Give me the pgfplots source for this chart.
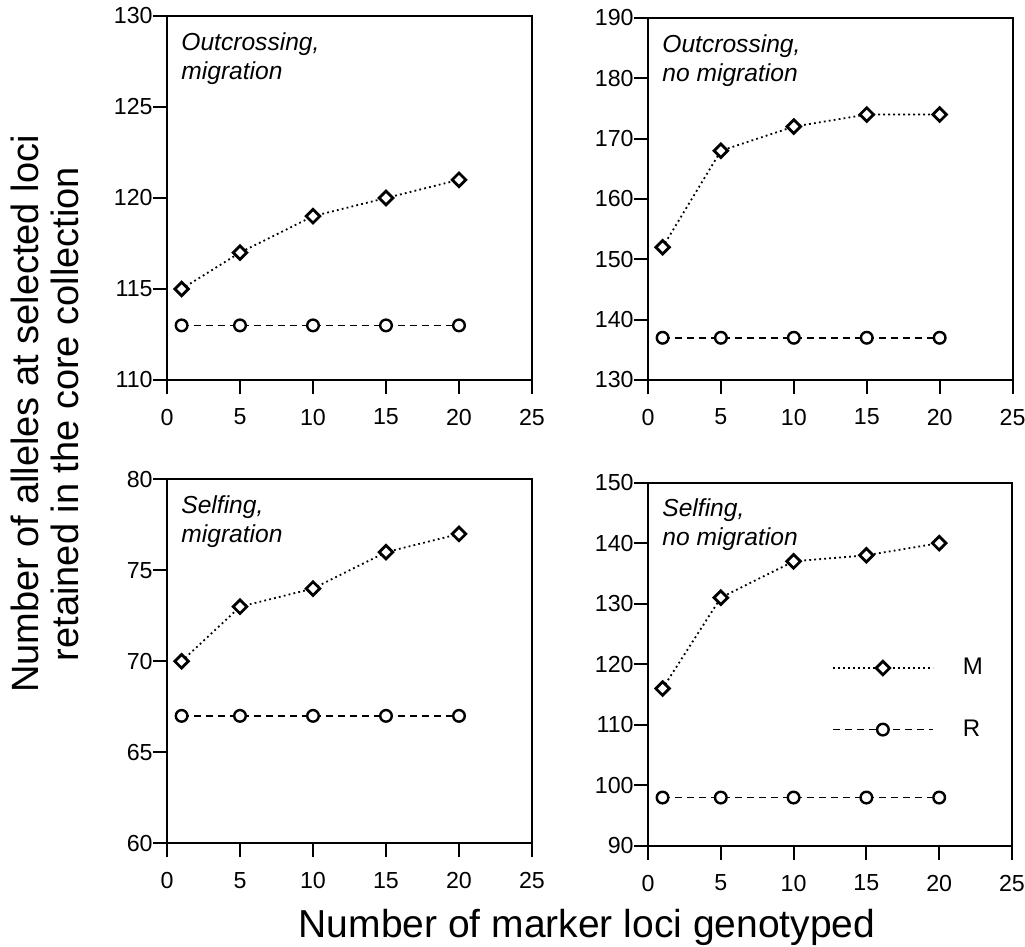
\documentclass[border=0pt]{standalone}
\usepackage{pgfplots}
\pgfplotsset{compat=1.18}
\usepackage{fontspec}
\setmainfont{Liberation Sans}

\pgfplotsset{
  panel/.style={
    scale only axis, anchor=south west,
    xmin=0, xmax=25, xtick={0,5,...,25},
    axis line style={line width=1pt},
    tick style={line width=1pt, black},
    tick align=outside, tick pos=left,
    major tick length=7pt,
    tick label style={font=\fontsize{11.6}{13}\selectfont, inner sep=0pt},
    xticklabel style={yshift=-7.3pt},
    yticklabel style={xshift=0pt},
    /pgf/number format/assume math mode=true,
    clip=false,
  },
  mline/.style={black, line width=0.9pt, dash pattern=on 0.9pt off 1.6pt,
    mark=square*, mark size=2.4pt,
    mark options={solid, rotate=45, fill=white, line width=1.4pt}},
  rline/.style={black, line width=0.8pt, dash pattern=on 3.5pt off 2.5pt,
    mark=*, mark size=2.9pt,
    mark options={solid, fill=white, line width=1.2pt}},
}
\tikzset{plabel/.style={anchor=north west, align=left, inner sep=0pt,
    xshift=7pt, yshift=-8pt,
    font=\fontsize{12.3}{14.5}\selectfont\itshape}}

\begin{document}
\begin{tikzpicture}
\useasboundingbox (0pt,0pt) rectangle (512.5pt,-473.5pt);

% Outcrossing, migration
\begin{axis}[panel, at={(83.5pt,-190pt)}, width=182.5pt, height=182pt,
  ymin=110, ymax=130, ytick={110,115,...,130}]
\addplot[mline] coordinates {(1,115)(5,117)(10,119)(15,120)(20,121)};
\addplot[rline] coordinates {(1,113)(5,113)(10,113)(15,113)(20,113)};
\node[plabel] at (rel axis cs:0,1) {Outcrossing,\\migration};
\end{axis}

% Outcrossing, no migration
\begin{axis}[panel, at={(324pt,-190pt)}, width=182.3pt, height=181pt,
  ymin=130, ymax=190, ytick={130,140,...,190}]
\addplot[mline] coordinates {(1,152)(5,168)(10,172)(15,174)(20,174)};
\addplot[rline] coordinates {(1,137)(5,137)(10,137)(15,137)(20,137)};
\node[plabel] at (rel axis cs:0,1) {Outcrossing,\\no migration};
\end{axis}

% Selfing, migration
\begin{axis}[panel, at={(83.5pt,-421.6pt)}, width=182.5pt, height=181.9pt,
  ymin=60, ymax=80, ytick={60,65,...,80}]
\addplot[mline] coordinates {(1,70)(5,73)(10,74)(15,76)(20,77)};
\addplot[rline] coordinates {(1,67)(5,67)(10,67)(15,67)(20,67)};
\node[plabel] at (rel axis cs:0,1) {Selfing,\\migration};
\end{axis}

% Selfing, no migration
\begin{axis}[panel, at={(324pt,-423pt)}, width=182pt, height=181.7pt,
  ymin=90, ymax=150, ytick={90,100,...,150},
  legend image code/.code={\draw[mark repeat=2,mark phase=2,#1]
    plot coordinates {(0pt,0pt)(25pt,0pt)(50pt,0pt)};},
  legend style={draw=none, fill=none, at={(axis cs:12.61,114.3)}, anchor=west,
    inner sep=0pt, row sep=21pt,
    nodes={inner sep=0pt, font=\fontsize{12}{14}\selectfont},
    /tikz/every odd column/.append style={column sep=14.5pt}},
  legend cell align=left]
\addplot[mline] coordinates {(1,116)(5,131)(10,137)(15,138)(20,140)};
\addplot[rline] coordinates {(1,98)(5,98)(10,98)(15,98)(20,98)};
\legend{M,R}
\node[plabel] at (rel axis cs:0,1) {Selfing,\\no migration};
\end{axis}

\node[rotate=90, align=center, inner sep=0pt, font=\fontsize{19}{20}\selectfont]
  at (22.5pt,-207pt) {Number of alleles at selected loci\\retained in the core collection};
\node[anchor=base, inner sep=0pt, font=\fontsize{19.5}{21}\selectfont]
  at (293.5pt,-468.5pt) {Number of marker loci genotyped};
\end{tikzpicture}
\end{document}
